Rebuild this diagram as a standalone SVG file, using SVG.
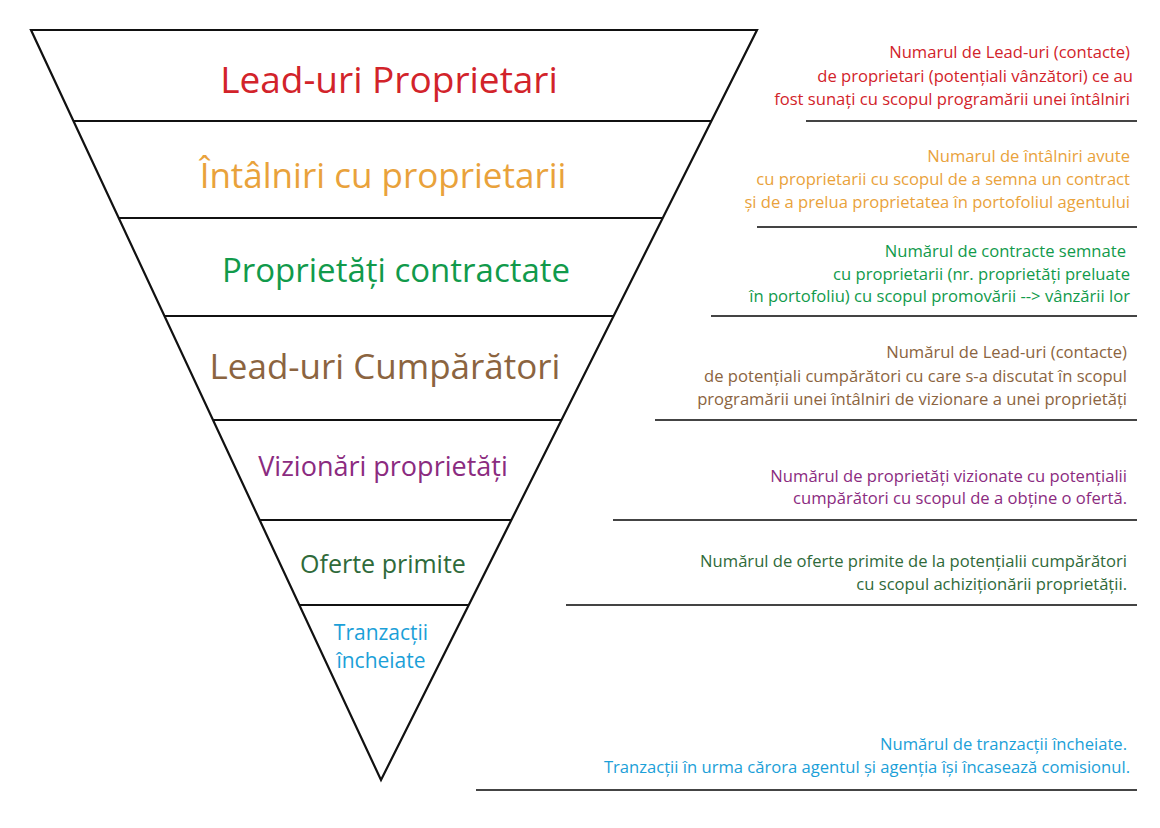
<svg xmlns="http://www.w3.org/2000/svg" width="1160" height="828" viewBox="0 0 1160 828">
<style>
.t{font-family:"Open Sans","Noto Sans",sans-serif;text-anchor:middle}
.d{font-family:"Open Sans","Noto Sans",sans-serif;text-anchor:end;font-size:16.6px}
.f{fill:none;stroke:#111;stroke-width:2.2}
.u{stroke:#444;stroke-width:1.8}
.red{fill:#d2232a}.org{fill:#e9a23b}.grn{fill:#119a4b}.brn{fill:#8b6440}.pur{fill:#8b2b80}.dgr{fill:#2f6a3a}.blu{fill:#1ba0d8}
</style>
<rect width="1160" height="828" fill="#fff"/>
<g id="funnel">
<polygon class="f" points="31,30 757,30 381,780"/>
<line class="f" x1="73.5" y1="121" x2="711.4" y2="121"/>
<line class="f" x1="118.7" y1="218" x2="662.7" y2="218"/>
<line class="f" x1="164.5" y1="316" x2="613.6" y2="316"/>
<line class="f" x1="213" y1="420" x2="561.5" y2="420"/>
<line class="f" x1="259.7" y1="520" x2="511.4" y2="520"/>
<line class="f" x1="299" y1="605" x2="468.8" y2="605"/>
</g>
<g id="connectors">
<line class="u" x1="806" y1="121" x2="1137" y2="121"/>
<line class="u" x1="757" y1="227" x2="1137" y2="227"/>
<line class="u" x1="711" y1="316" x2="1137" y2="316"/>
<line class="u" x1="655" y1="420" x2="1137" y2="420"/>
<line class="u" x1="613" y1="520" x2="1137" y2="520"/>
<line class="u" x1="566" y1="605" x2="1137" y2="605"/>
<line class="u" x1="476" y1="790" x2="1137" y2="790"/>
</g>
<g id="n1"><text class="t red" x="389" y="93" font-size="37">Lead-uri Proprietari</text>
<text class="d red" x="1130" y="58">Numarul de Lead-uri (contacte)</text>
<text class="d red" x="1133" y="82">de proprietari (potențiali vânzători) ce au</text>
<text class="d red" x="1130" y="105">fost sunați cu scopul programării unei întâlniri</text></g>
<g id="n2"><text class="t org" x="383" y="188" font-size="35">Întâlniri cu proprietarii</text>
<text class="d org" x="1130" y="162">Numarul de întâlniri avute</text>
<text class="d org" x="1130" y="185">cu proprietarii cu scopul de a semna un contract</text>
<text class="d org" x="1130" y="208">și de a prelua proprietatea în portofoliul agentului</text></g>
<g id="n3"><text class="t grn" x="396" y="282" font-size="33">Proprietăți contractate</text>
<text class="d grn" x="1126" y="257">Numărul de contracte semnate</text>
<text class="d grn" x="1130" y="280">cu proprietarii (nr. proprietăți preluate</text>
<text class="d grn" x="1130" y="302">în portofoliu) cu scopul promovării --&gt; vânzării lor</text></g>
<g id="n4"><text class="t brn" x="385" y="379" font-size="35">Lead-uri Cumpărători</text>
<text class="d brn" x="1127" y="358">Numărul de Lead-uri (contacte)</text>
<text class="d brn" x="1127" y="382">de potențiali cumpărători cu care s-a discutat în scopul</text>
<text class="d brn" x="1127" y="405">programării unei întâlniri de vizionare a unei proprietăți</text></g>
<g id="n5"><text class="t pur" x="383" y="476" font-size="27">Vizionări proprietăți</text>
<text class="d pur" x="1127" y="482">Numărul de proprietăți vizionate cu potențialii</text>
<text class="d pur" x="1127" y="504">cumpărători cu scopul de a obține o ofertă.</text></g>
<g id="n6"><text class="t dgr" x="383" y="573" font-size="25">Oferte primite</text>
<text class="d dgr" x="1127" y="567">Numărul de oferte primite de la potențialii cumpărători</text>
<text class="d dgr" x="1127" y="590">cu scopul achiziționării proprietății.</text></g>
<g id="n7"><text class="t blu" x="381" y="640" font-size="21">Tranzacții</text>
<text class="t blu" x="381" y="668" font-size="21">încheiate</text>
<text class="d blu" x="1127" y="750">Numărul de tranzacții încheiate.</text>
<text class="d blu" x="1130" y="773">Tranzacții în urma cărora agentul și agenția își încasează comisionul.</text></g>
</svg>
